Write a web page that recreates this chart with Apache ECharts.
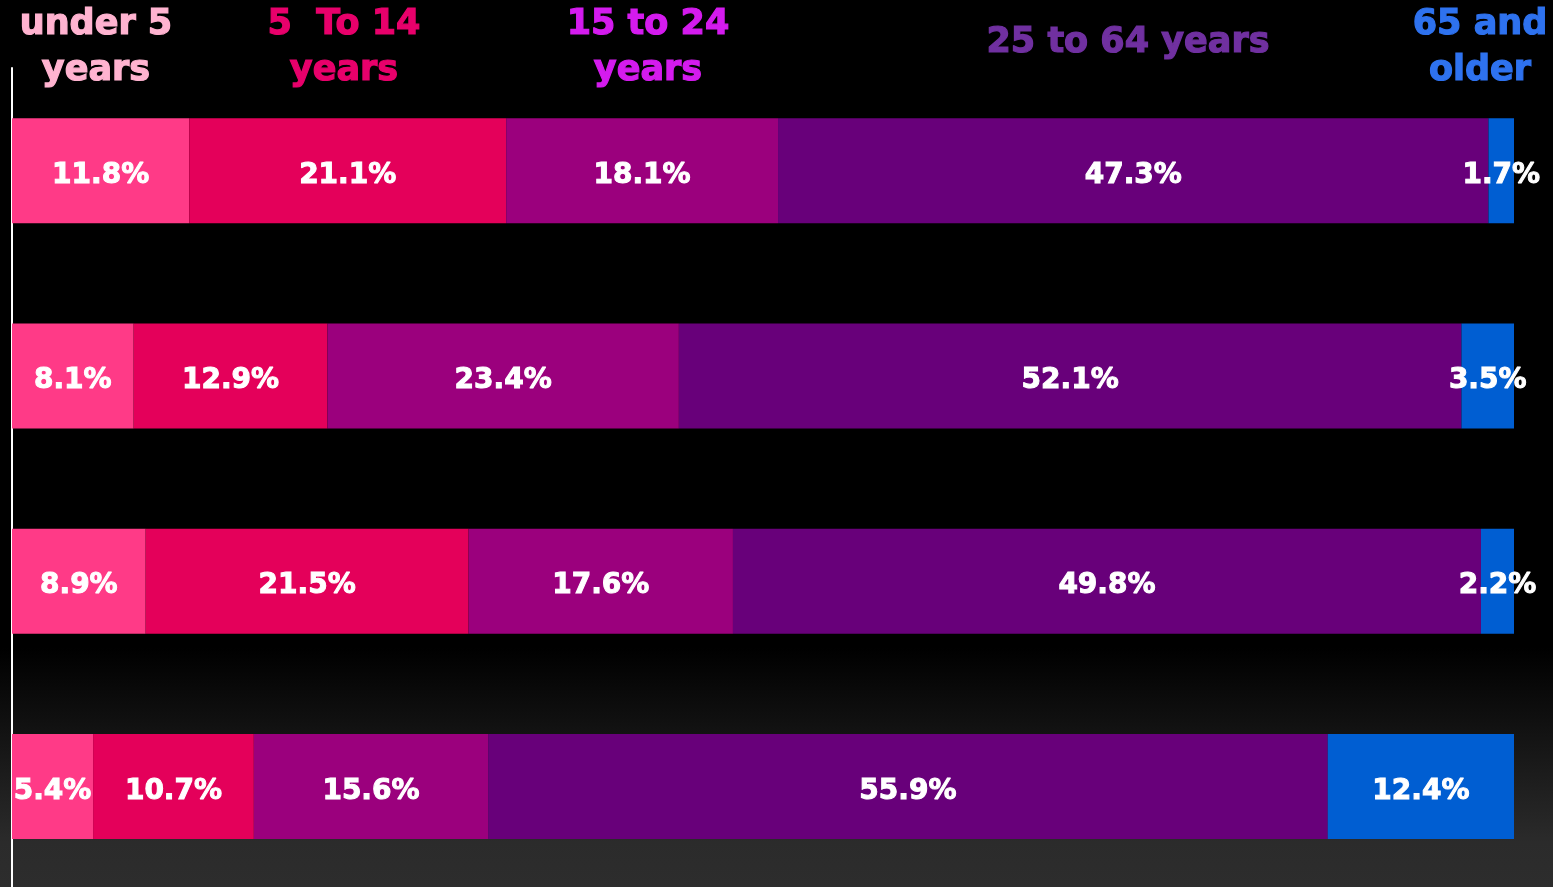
<!DOCTYPE html>
<html>
<head>
<meta charset="utf-8">
<script src="https://cdn.jsdelivr.net/npm/echarts@6/dist/echarts.min.js"></script>
<style>html,body{margin:0;padding:0;background:#000;}#c{width:1553px;height:887px;}</style>
</head>
<body>
<div id="c"></div>
<script>
const categories = ['1', '2', '3', '4'];
const seriesNames = ['under 5 years', '5  To 14 years', '15 to 24 years', '25 to 64 years', '65 and older'];
const under5 = [11.8, 8.1, 8.9, 5.4];
const age5to14 = [21.1, 12.9, 21.5, 10.7];
const age15to24 = [18.1, 23.4, 17.6, 15.6];
const age25to64 = [47.3, 52.1, 49.8, 55.9];
const age65plus = [1.7, 3.5, 2.2, 12.4];
const seriesData = [under5, age5to14, age15to24, age25to64, age65plus];
const barColors = ['#FF3A87', '#E4005A', '#9B007D', '#68007A', '#005ED2'];
const headerLines = [['under 5', 'years'], ['5  To 14', 'years'], ['15 to 24', 'years'], ['25 to 64 years'], ['65 and', 'older']];
const headerColors = ['#FFB3D0', '#E8006B', '#D41BEE', '#7030A0', '#2E72EF'];

const headerX = [96, 344, 648, 1128, 1480];
const graphics = [];
headerLines.forEach((lines, i) => {
  const ys = lines.length === 2 ? [25, 71] : [43];
  lines.forEach((t, j) => {
    graphics.push({
      type: 'text', x: headerX[i], y: ys[j],
      style: { text: t, fill: headerColors[i], font: 'bold 35px "DejaVu Sans"', align: 'center', verticalAlign: 'middle',
        stroke: headerColors[i], lineWidth: 1.2 }
    });
  });
});

const chart = echarts.init(document.getElementById('c'));
chart.setOption({
  backgroundColor: {
    type: 'linear', x: 0, y: 0, x2: 0, y2: 1,
    colorStops: [{ offset: 0, color: '#000' }, { offset: 0.73, color: '#000' }, { offset: 0.95, color: '#2b2b2b' }, { offset: 1, color: '#2d2d2d' }]
  },
  animation: false,
  grid: { left: 12, top: 68, width: 1502, height: 821, containLabel: false, outerBoundsMode: 'none' },
  xAxis: { type: 'value', min: 0, max: 100, show: false },
  yAxis: {
    type: 'category', data: categories, inverse: true,
    axisLine: { show: true, lineStyle: { color: '#fff', width: 2 } },
    axisTick: { show: false }, axisLabel: { show: false }, splitLine: { show: false }
  },
  graphic: graphics,
  series: seriesNames.map((n, i) => ({
    name: n, type: 'bar', stack: 'total', barWidth: 105,
    data: seriesData[i],
    itemStyle: { color: barColors[i] },
    label: {
      show: true, position: 'inside', color: '#fff', offset: [0, 5],
      fontFamily: 'DejaVu Sans', fontWeight: 'bold', fontSize: 28,
      textBorderColor: '#fff', textBorderWidth: 1,
      formatter: p => p.value.toFixed(1) + '%'
    }
  }))
});
</script>
</body>
</html>
